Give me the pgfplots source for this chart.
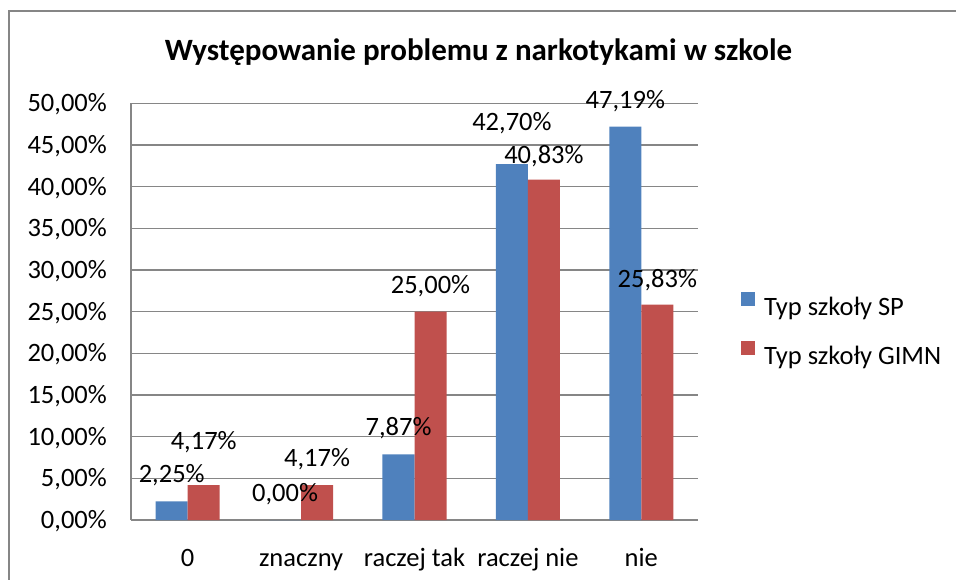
\documentclass[border=0pt]{standalone}
\usepackage{fontspec}
\setmainfont{Carlito}
\usepackage{pgfplots}
\pgfplotsset{compat=1.18}
\usepackage{pgfplotstable}
\definecolor{spc}{HTML}{4F81BD}
\definecolor{gmc}{HTML}{C0504D}
\definecolor{grc}{HTML}{868686}

\pgfplotstableread{
x sp dysp gimn dyg
0 2.25 27 4.17 44
1 0 27 4.17 27
2 7.87 27 25 27
3 42.70 42 40.83 25
4 47.19 27 25.83 26
}\data

\newcommand{\lblfont}{\fontsize{26.5}{30}\selectfont}

\begin{document}
\begin{tikzpicture}[x=1pt,y=1pt]
\useasboundingbox (0,0) rectangle (956,579);
\draw[grc, line width=2pt] (8.5,-10) -- (8.5,568) -- (970,568);
\node[font=\fontsize{31}{36}\selectfont\bfseries, anchor=base, inner sep=0pt] at (478.5,518) {Występowanie problemu z narkotykami w szkole};
\begin{axis}[
  at={(131pt,59pt)}, anchor=south west,
  scale only axis, width=567pt, height=416.7pt,
  ybar=0pt, bar width=32pt,
  xmin=-0.5, xmax=4.5, ymin=0, ymax=50,
  xtick={0,...,4}, xticklabels={0,znaczny,raczej tak,raczej nie,nie},
  ytick={0,5,...,50},
  axis lines=left,
  axis line style={grc, line width=2pt, -},
  major tick length=0pt,
  ymajorgrids, grid style={grc, line width=1.6pt},
  clip=false,
  /pgf/number format/assume math mode=true,
  tick label style={font=\lblfont, inner sep=0pt},
  yticklabel={\pgfmathprintnumber[fixed,fixed zerofill,precision=2,use comma]{\tick}\%},
  yticklabel style={anchor=base east, xshift=-24pt, yshift=-8.5pt},
  xticklabel style={anchor=base, yshift=-46pt},
  nodes near coords={\pgfmathprintnumber[fixed,fixed zerofill,precision=2,use comma,assume math mode=true]{\pgfplotspointmeta}\%},
  every node near coord/.append style={font=\lblfont, anchor=base, inner sep=0pt, yshift=\dy pt-8.5pt, text=black},
  legend image code/.code={\fill[#1] (0pt,1.5pt) rectangle (14pt,15.5pt);},
  legend style={at={(axis description cs:1.0758,0.456)}, anchor=west, draw=none, fill=none, inner sep=0pt, font=\lblfont, row sep=22pt, cells={anchor=west},
    /tikz/every odd column/.append style={column sep=7pt}},
]
\addplot[fill=spc, draw=none, visualization depends on={\thisrow{dysp} \as \dy}] table[x=x, y=sp] {\data};
\addplot[fill=gmc, draw=none, visualization depends on={\thisrow{dyg} \as \dy}] table[x=x, y=gimn] {\data};
\legend{Typ szkoły SP, Typ szkoły GIMN}
\end{axis}
\end{tikzpicture}
\end{document}
